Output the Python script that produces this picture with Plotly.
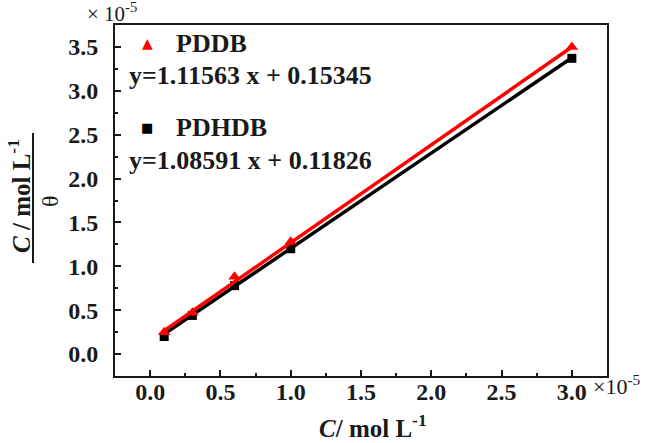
import plotly.graph_objects as go

# data (units of 1e-5)
conc = [0.1, 0.3, 0.6, 1.0, 3.0]
pddb_y = [0.25, 0.47, 0.88, 1.28, 3.50]
pdhdb_y = [0.20, 0.44, 0.78, 1.20, 3.37]

fit_x = [0.1, 3.0]
pddb_fit = [0.265, 3.50]
pdhdb_fit = [0.227, 3.376]

xticks = [0.0, 0.5, 1.0, 1.5, 2.0, 2.5, 3.0]
yticks = [0.0, 0.5, 1.0, 1.5, 2.0, 2.5, 3.0, 3.5]

FONT = "Liberation Serif"
RED = "#ff0000"
INK = "#1a1a1a"

W, H = 650, 443
ML, MR, MT, MB = 115, 43, 25, 67
pw, ph = W - ML - MR, H - MT - MB


def to_paper(px, py):
    # pixel position in the picture -> paper coordinates
    return (px - ML) / pw, 1 - (py - MT) / ph


def bold(size, color=INK, family=FONT):
    return dict(family=family, size=size, color=color, weight="bold")


fig = go.Figure()

fig.add_trace(go.Scatter(x=fit_x, y=pdhdb_fit, mode="lines",
                         line=dict(color="black", width=3.5), showlegend=False))
fig.add_trace(go.Scatter(x=conc, y=pdhdb_y, mode="markers",
                         marker=dict(symbol="square", size=9, color="black"),
                         showlegend=False))
fig.add_trace(go.Scatter(x=fit_x, y=pddb_fit, mode="lines",
                         line=dict(color=RED, width=3.5), showlegend=False))
fig.add_trace(go.Scatter(x=conc, y=pddb_y, mode="markers",
                         marker=dict(symbol="triangle-up", size=11, color=RED),
                         showlegend=False))

axis_common = dict(
    showline=True, linecolor=INK, linewidth=2, mirror=True,
    ticks="inside", ticklen=6, tickwidth=2, tickcolor=INK,
    showgrid=False, zeroline=False, automargin=False,
    tickfont=bold(24),
    minor=dict(ticks="inside", ticklen=3, tickwidth=2, tickcolor=INK),
)

fig.update_xaxes(range=[-0.25, 3.25], tickvals=xticks,
                 ticktext=[f"{v:.1f}" for v in xticks],
                 minor_tickvals=[v + 0.25 for v in xticks[:-1]],
                 ticklabelstandoff=-7,
                 **axis_common)
fig.update_yaxes(range=[-0.25, 3.75], tickvals=yticks,
                 ticktext=[f"{v:.1f}" for v in yticks],
                 minor_tickvals=[v + 0.25 for v in yticks],
                 ticklabelstandoff=10,
                 **axis_common)

# (pixel x, pixel y, text, font, extra)
labels = [
    (112, 13, "× 10<sup>-5</sup>", dict(family=FONT, size=21, color=INK), {}),
    (617, 385, "×10<sup>-5</sup>", dict(family=FONT, size=22, color=INK), {}),
    (147, 43, "▲", dict(family="DejaVu Sans", size=14, color=RED), {}),
    (147, 128, "■", dict(family="DejaVu Sans", size=13, color="black"), {}),
    (174, 43, "PDDB", bold(26), dict(xanchor="left")),
    (127, 75, "y=1.11563 x + 0.15345", bold(26), dict(xanchor="left")),
    (174, 128, "PDHDB", bold(26), dict(xanchor="left")),
    (127, 160, "y=1.08591 x + 0.11826", bold(26), dict(xanchor="left")),
    # x-axis title
    (373, 426, "<i>C</i>/ mol L<sup>-1</sup>", bold(25), {}),
    # y-axis title as a fraction
    (19, 196, "<i>C</i> / mol L<sup>-1</sup>", bold(25), dict(textangle=-90)),
    (50, 201, "θ", dict(family=FONT, size=24, color=INK), dict(textangle=-90)),
]

annotations = []
for px, py, text, font, extra in labels:
    x, y = to_paper(px, py)
    a = dict(x=x, y=y, xref="paper", yref="paper", text=text,
             showarrow=False, font=font, xanchor="center", yanchor="middle")
    a.update(extra)
    annotations.append(a)

fx0, fy0 = to_paper(33, 133)
fx1, fy1 = to_paper(33, 263)

fig.update_layout(
    width=W, height=H,
    margin=dict(l=ML, r=MR, t=MT, b=MB),
    paper_bgcolor="white", plot_bgcolor="white",
    annotations=annotations,
    shapes=[dict(type="line", xref="paper", yref="paper",
                 x0=fx0, x1=fx1, y0=fy0, y1=fy1,
                 line=dict(color=INK, width=2))],
)

fig.write_html("out.html", config={"displayModeBar": False},
               post_script="document.body.style.margin='0';")
